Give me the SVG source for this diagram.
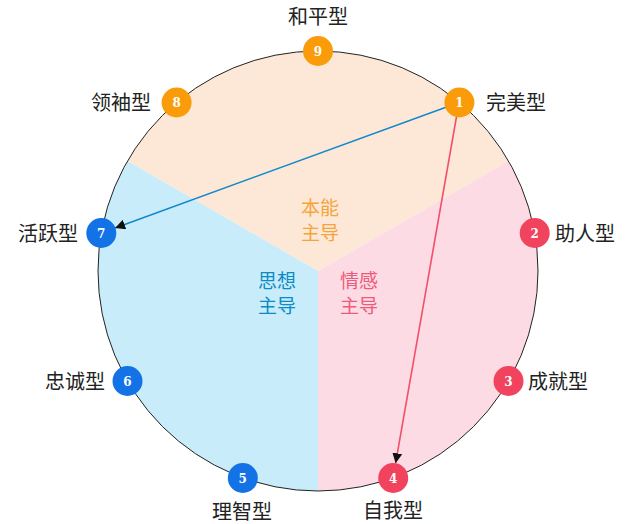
<svg xmlns="http://www.w3.org/2000/svg" width="635" height="524" viewBox="0 0 635 524">
<defs>
<style>
.lbl{font-family:"Noto Sans CJK SC","Noto Sans",sans-serif;font-size:20px;fill:#222;}
.num{font-family:"DejaVu Serif","Liberation Serif",serif;font-size:12px;font-weight:bold;fill:#fff;text-anchor:middle;}
.ctr{font-family:"Noto Sans CJK SC","Noto Sans",sans-serif;font-size:19px;text-anchor:middle;}
.o{fill:#fa9c0a;}
.b{fill:#1272e6;}
.r{fill:#f1425e;}
</style>
<marker id="ah" viewBox="0 0 10 10" refX="10" refY="5" markerWidth="10" markerHeight="10" markerUnits="userSpaceOnUse" orient="auto">
<path d="M0,0 L10,5 L0,10 Z" fill="#111"/>
</marker>
</defs>
<rect width="635" height="524" fill="#fff"/>
<g id="sectors">
<path d="M318,271 L508.5,161 A220,220 0 0 0 127.5,161 Z" fill="#fde8d7"/>
<path d="M318,271 L127.5,161 A220,220 0 0 0 318,491 Z" fill="#c8ecf9"/>
<path d="M318,271 L318,491 A220,220 0 0 0 508.5,161 Z" fill="#fddbe4"/>
<circle cx="318" cy="271" r="220" fill="none" stroke="#222" stroke-width="1"/>
</g>
<g id="center-labels">
<text class="ctr" x="320" y="215" fill="#f5a43a">本能</text>
<text class="ctr" x="320" y="240" fill="#f5a43a">主导</text>
<text class="ctr" x="277" y="288" fill="#0a8cc6">思想</text>
<text class="ctr" x="277" y="313" fill="#0a8cc6">主导</text>
<text class="ctr" x="359" y="288" fill="#ee5a7c">情感</text>
<text class="ctr" x="359" y="313" fill="#ee5a7c">主导</text>
</g>
<g id="connectors">
<line x1="459" y1="102.5" x2="115.1" y2="227.9" stroke="#1188cc" stroke-width="1.6" marker-end="url(#ah)"/>
<line x1="459" y1="102.5" x2="395.6" y2="463.2" stroke="#f0506a" stroke-width="1.6" marker-end="url(#ah)"/>
</g>
<g id="n9"><circle cx="318" cy="51" r="15" class="o"/><text class="num" x="318" y="55.5">9</text><text class="lbl" x="318" y="23.5" text-anchor="middle">和平型</text></g>
<g id="n1"><circle cx="459.4" cy="102.5" r="15" class="o"/><text class="num" x="459.4" y="107">1</text><text class="lbl" x="486" y="110">完美型</text></g>
<g id="n2"><circle cx="534.7" cy="233" r="15" class="r"/><text class="num" x="534.7" y="237.5">2</text><text class="lbl" x="555" y="241">助人型</text></g>
<g id="n3"><circle cx="508.5" cy="381" r="15" class="r"/><text class="num" x="508.5" y="385.5">3</text><text class="lbl" x="528" y="389">成就型</text></g>
<g id="n4"><circle cx="393.2" cy="478" r="15" class="r"/><text class="num" x="393.2" y="482.5">4</text><text class="lbl" x="393" y="518" text-anchor="middle">自我型</text></g>
<g id="n5"><circle cx="242.8" cy="478" r="15" class="b"/><text class="num" x="242.8" y="482.5">5</text><text class="lbl" x="242" y="519" text-anchor="middle">理智型</text></g>
<g id="n6"><circle cx="127.5" cy="381" r="15" class="b"/><text class="num" x="127.5" y="385.5">6</text><text class="lbl" x="105" y="389" text-anchor="end">忠诚型</text></g>
<g id="n7"><circle cx="101.3" cy="233" r="15" class="b"/><text class="num" x="101.3" y="237.5">7</text><text class="lbl" x="78" y="241" text-anchor="end">活跃型</text></g>
<g id="n8"><circle cx="176.6" cy="102.5" r="15" class="o"/><text class="num" x="176.6" y="107">8</text><text class="lbl" x="151" y="110" text-anchor="end">领袖型</text></g>
</svg>
